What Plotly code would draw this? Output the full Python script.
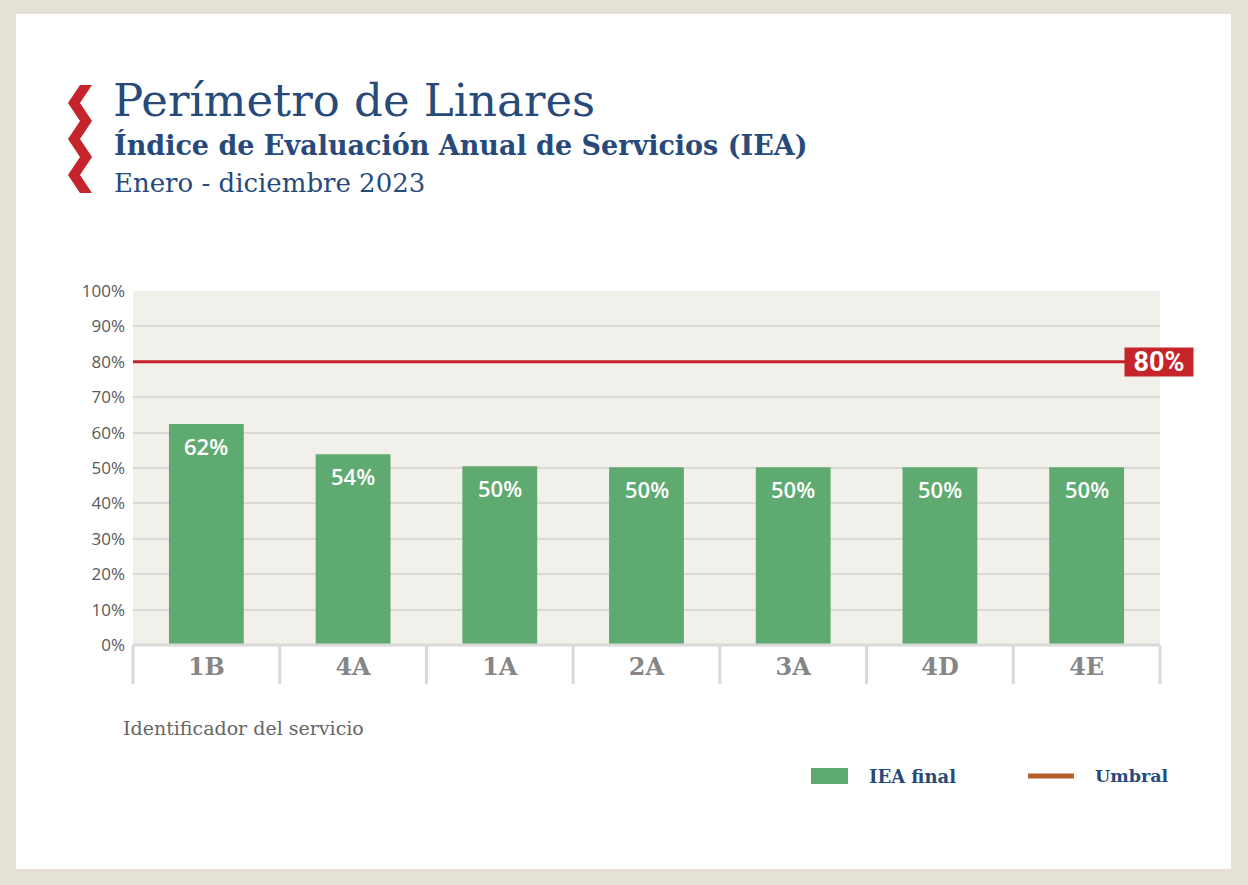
import plotly.graph_objects as go

# ---- data ----
categories = ["1B", "4A", "1A", "2A", "3A", "4D", "4E"]
iea_final = [62.4, 53.9, 50.5, 50.2, 50.2, 50.2, 50.2]
umbral = 80
y_ticks = [0, 10, 20, 30, 40, 50, 60, 70, 80, 90, 100]
y_tick_labels = [f"{v}%" for v in y_ticks]

# ---- geometry helpers ----
W, H = 1248, 885
L, R, T, B = 133, 88, 291, 240
PW, PH = W - L - R, H - T - B

def px(x):
    return (x - L) / PW

def py(y):
    return (H - B - y) / PH

NAVY = "#284A7B"
RED = "#C5242A"
GREEN = "#5FAA71"
BEIGE = "#E6E1D6"
PLOTBG = "#F1F0EB"
GRID = "#DAD9D5"

fig = go.Figure()
fig.add_trace(go.Bar(
    x=categories, y=iea_final, marker=dict(color=GREEN, line=dict(width=0)),
    width=0.51, showlegend=False, hoverinfo="skip",
))

shapes = []
# white panel on beige frame
shapes.append(dict(type="rect", xref="paper", yref="paper", layer="below",
                   x0=px(16), x1=px(1231), y0=py(869), y1=py(14),
                   fillcolor="white", line=dict(width=0)))
# plot background
shapes.append(dict(type="rect", xref="paper", yref="paper", layer="below",
                   x0=0, x1=1, y0=0, y1=1, fillcolor=PLOTBG, line=dict(width=0)))
# category band separators
n = len(categories)
for k in range(n + 1):
    xx = k / n
    shapes.append(dict(type="line", xref="paper", yref="paper", layer="above",
                       x0=xx, x1=xx, y0=0, y1=py(684),
                       line=dict(color="#D9D9D9", width=3)))
shapes.append(dict(type="line", xref="paper", yref="paper", layer="above",
                   x0=0, x1=1, y0=0, y1=0, line=dict(color="#D9D9D9", width=3)))
# threshold line
shapes.append(dict(type="line", xref="paper", yref="y", layer="above",
                   x0=0, x1=1, y0=umbral, y1=umbral,
                   line=dict(color=RED, width=3)))
# red chevron decoration
left_pts = [(80, 85), (68, 103), (80, 121), (68, 139), (80, 157), (68, 175), (80, 193)]
right_pts = [(92, 193), (80, 175), (92, 157), (80, 139), (92, 121), (80, 103), (92, 85)]
pts = left_pts + right_pts
path = "M " + " L ".join(f"{px(a):.5f},{py(b):.5f}" for a, b in pts) + " Z"
shapes.append(dict(type="path", xref="paper", yref="paper", path=path,
                   fillcolor=RED, line=dict(width=0), layer="above"))
# legend marks
shapes.append(dict(type="rect", xref="paper", yref="paper",
                   x0=px(811), x1=px(848), y0=py(784), y1=py(768),
                   fillcolor=GREEN, line=dict(width=0)))
shapes.append(dict(type="line", xref="paper", yref="paper",
                   x0=px(1028), x1=px(1074), y0=py(776), y1=py(776),
                   line=dict(color="#B35E2B", width=5)))

annotations = []
# titles
annotations.append(dict(xref="paper", yref="paper", x=px(111), y=py(101),
                        xanchor="left", yanchor="middle", showarrow=False,
                        text="Perímetro de Linares",
                        font=dict(family="DejaVu Serif", size=45, color=NAVY)))
annotations.append(dict(xref="paper", yref="paper", x=px(112), y=py(145),
                        xanchor="left", yanchor="middle", showarrow=False,
                        text="<b>Índice de Evaluación Anual de Servicios (IEA)</b>",
                        font=dict(family="DejaVu Serif", size=27, color=NAVY)))
annotations.append(dict(xref="paper", yref="paper", x=px(112), y=py(183),
                        xanchor="left", yanchor="middle", showarrow=False,
                        text="Enero - diciembre 2023",
                        font=dict(family="DejaVu Serif", size=26, color=NAVY)))
# axis title
annotations.append(dict(xref="paper", yref="paper", x=px(121), y=py(728),
                        xanchor="left", yanchor="middle", showarrow=False,
                        text="Identificador del servicio",
                        font=dict(family="DejaVu Serif", size=19, color="#666666")))
# bar labels
for c, v in zip(categories, iea_final):
    annotations.append(dict(x=c, y=v, xref="x", yref="y", yanchor="middle",
                            yshift=-22, showarrow=False, text=f"{v:.0f}%",
                            font=dict(family="Open Sans", size=22, color="white",
                                      weight=600)))
# threshold label
annotations.append(dict(xref="paper", yref="y", x=px(1159), y=umbral,
                        xanchor="center", yanchor="middle", showarrow=False,
                        text=f"<b>{umbral}%</b>", bgcolor=RED, width=68, height=28,
                        borderpad=0,
                        font=dict(family="Roboto", size=27, color="white")))
# legend texts
annotations.append(dict(xref="paper", yref="paper", x=px(867), y=py(776),
                        xanchor="left", yanchor="middle", showarrow=False,
                        text="<b>IEA final</b>",
                        font=dict(family="DejaVu Serif", size=18, color=NAVY)))
annotations.append(dict(xref="paper", yref="paper", x=px(1093), y=py(776),
                        xanchor="left", yanchor="middle", showarrow=False,
                        text="<b>Umbral</b>",
                        font=dict(family="DejaVu Serif", size=17.5, color=NAVY)))

fig.update_layout(
    width=W, height=H,
    margin=dict(l=L, r=R, t=T, b=B),
    paper_bgcolor=BEIGE, plot_bgcolor="rgba(0,0,0,0)",
    shapes=shapes, annotations=annotations,
    bargap=0.49, showlegend=False,
    xaxis=dict(range=[-0.5, n - 0.5], showgrid=False, zeroline=False,
               showline=False, ticks="", ticklabelstandoff=5,
               tickfont=dict(family="DejaVu Serif", size=24, color="#868686",
                             weight="bold")),
    yaxis=dict(range=[0, 100], tickvals=y_ticks, ticktext=y_tick_labels,
               showgrid=True, gridcolor=GRID, gridwidth=2, zeroline=False,
               showline=False, ticks="", ticklabelstandoff=7,
               tickfont=dict(family="Open Sans", size=17, color="#5A5A5A")),
)

fig.write_html(
    "out.html",
    config={"displayModeBar": False},
    post_script="document.body.style.margin='0';document.body.style.background='%s';" % BEIGE,
)
